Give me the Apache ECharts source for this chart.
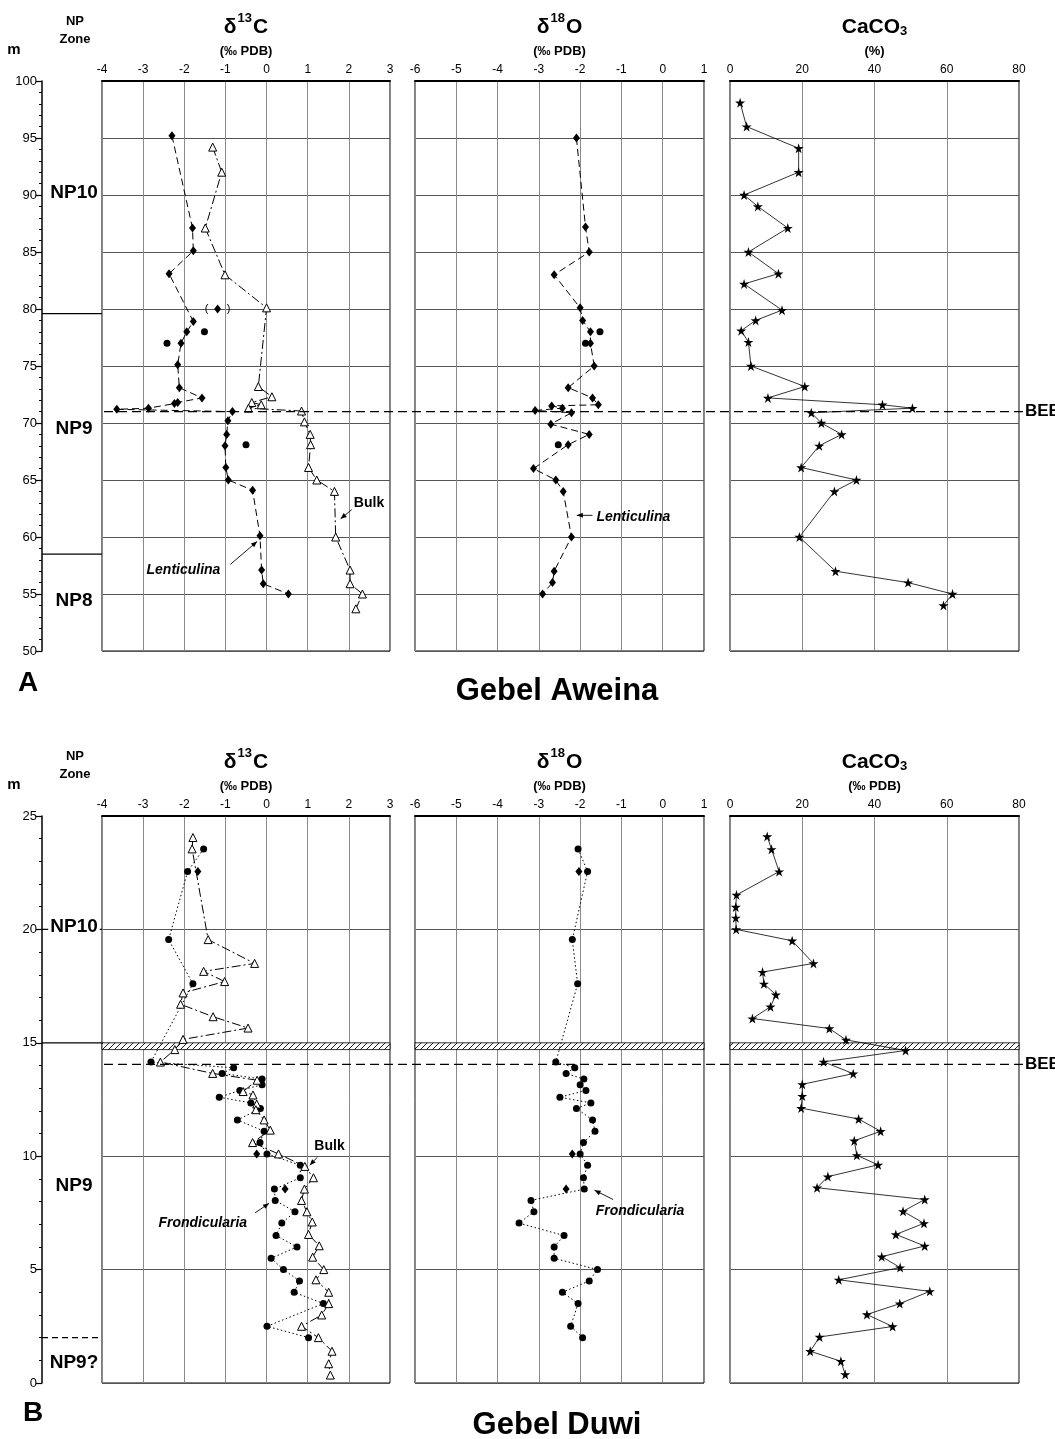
<!DOCTYPE html>
<html><head><meta charset="utf-8">
<script src="https://cdn.jsdelivr.net/npm/echarts@6.0.0/dist/echarts.min.js"></script>
<style>html,body{margin:0;padding:0;background:#fff}#c{width:1055px;height:1439px}</style>
</head><body><div id="c"></div>
<script>
// ---------------- DATA ----------------
const D13C_RANGE = [-4, 3];
const D18O_RANGE = [-6, 1];
const CACO3_RANGE = [0, 80];
const A_DEPTH_RANGE = [50, 100];
const B_DEPTH_RANGE = [0, 25];

// Panel A: Gebel Aweina
const A_LENT13_DEPTH = [95.2, 87.1, 85.1, 83.1, 78.9, 78.0, 77.0, 75.1, 73.1, 72.2, 71.8, 71.7, 71.3, 71.2, 71.0, 70.2, 69.0, 68.0, 66.1, 65.0, 64.1, 60.1, 57.1, 55.9, 55.0];
const A_LENT13 = [-2.30, -1.80, -1.78, -2.37, -1.78, -1.94, -2.08, -2.16, -2.12, -1.57, -2.16, -2.24, -2.87, -3.64, -0.83, -0.94, -0.97, -1.01, -0.99, -0.93, -0.34, -0.16, -0.12, -0.08, 0.53];
const A_BULK13_DEPTH = [94.2, 92.0, 87.1, 83.0, 80.1, 73.2, 72.3, 71.8, 71.6, 71.3, 71.05, 70.1, 69.0, 68.1, 66.1, 65.0, 64.0, 60.0, 57.1, 55.9, 55.0, 53.7];
const A_BULK13 = [-1.31, -1.09, -1.49, -1.01, 0.0, -0.20, 0.13, -0.36, -0.13, -0.44, 0.85, 0.92, 1.06, 1.07, 1.02, 1.22, 1.65, 1.68, 2.03, 2.03, 2.33, 2.17];
const A_OTHER_DEPTH = [78.0, 77.0, 68.1];
const A_OTHER13 = [-1.51, -2.42, -0.50];
const A_OTHER18 = [-1.52, -1.87, -2.53];
const A_PAREN_DEPTH = [80.0];
const A_PAREN13 = [-1.19];
const A_LENT18_DEPTH = [95.0, 87.2, 85.0, 83.0, 80.1, 79.0, 78.0, 77.0, 75.0, 73.1, 72.2, 71.6, 71.5, 71.3, 71.1, 70.9, 69.9, 69.0, 68.1, 66.0, 65.0, 64.0, 60.0, 57.0, 56.0, 55.0];
const A_LENT18 = [-2.09, -1.87, -1.78, -2.63, -2.0, -1.94, -1.75, -1.75, -1.66, -2.29, -1.70, -1.56, -2.69, -2.43, -3.09, -2.21, -2.71, -1.78, -2.29, -3.13, -2.59, -2.41, -2.21, -2.63, -2.67, -2.91];
const A_CACO3_DEPTH = [98.1, 96.0, 94.1, 92.0, 90.0, 89.0, 87.1, 85.0, 83.1, 82.2, 79.9, 79.0, 78.1, 77.1, 75.0, 73.2, 72.2, 71.6, 71.3, 70.9, 70.0, 69.0, 68.0, 66.1, 65.0, 64.0, 60.0, 57.0, 56.0, 55.0, 54.0];
const A_CACO3 = [2.8, 4.6, 19.0, 19.0, 3.9, 7.7, 16.0, 5.1, 13.4, 3.9, 14.4, 7.1, 3.1, 5.1, 5.8, 20.7, 10.5, 42.2, 50.5, 22.5, 25.3, 30.9, 24.7, 19.7, 35.0, 28.9, 19.2, 29.2, 49.3, 61.6, 59.1];
const A_BEE_DEPTH = 71.0;
const A_ZONE_BOUNDS = [79.6, 58.5];
const A_ZONE_LABELS = ['NP10', 'NP9', 'NP8'];
const A_ZONE_LABEL_DEPTH = [90.2, 69.5, 54.4];

// Panel B: Gebel Duwi
const B_FROND_DEPTH = [23.55, 22.55, 19.55, 17.6, 14.15, 13.9, 13.65, 13.4, 13.15, 12.9, 12.6, 12.35, 12.1, 11.6, 11.1, 10.6, 10.1, 9.6, 9.05, 8.55, 8.05, 7.55, 7.05, 6.5, 6.0, 5.5, 5.0, 4.5, 4.0, 3.5, 2.5, 2.0];
const B_FROND13 = [-1.53, -1.92, -2.38, -1.79, -2.81, -0.80, -1.08, -0.11, -0.11, -0.65, -1.15, -0.38, -0.15, -0.71, -0.06, -0.16, 0.01, 0.82, 0.82, 0.19, 0.21, 0.69, 0.37, 0.23, 0.74, 0.11, 0.41, 0.80, 0.67, 1.38, 0.01, 1.02];
const B_FROND18 = [-2.05, -1.82, -2.19, -2.06, -2.59, -2.13, -2.34, -1.91, -2.0, -1.86, -2.49, -1.74, -2.09, -1.70, -1.64, -1.92, -2.0, -1.82, -1.92, -1.90, -3.19, -3.12, -3.48, -2.39, -2.63, -2.63, -1.58, -1.78, -2.43, -2.05, -2.23, -1.94];
const B_BULK13_DEPTH = [24.05, 23.55, 19.55, 18.5, 18.15, 17.7, 17.2, 16.7, 16.15, 15.65, 15.15, 14.7, 14.15, 13.65, 13.35, 12.85, 12.7, 12.3, 12.05, 11.6, 11.15, 10.6, 10.1, 9.55, 9.05, 8.55, 8.05, 7.55, 7.1, 6.55, 6.05, 5.55, 5.0, 4.55, 4.0, 3.5, 3.0, 2.5, 2.0, 1.4, 0.85, 0.35];
const B_BULK13 = [-1.79, -1.81, -1.42, -0.29, -1.53, -1.02, -2.03, -2.09, -1.30, -0.45, -2.03, -2.23, -2.58, -1.31, -0.23, -0.57, -0.33, -0.24, -0.26, -0.06, 0.09, -0.34, 0.29, 0.93, 1.14, 0.92, 0.85, 0.98, 1.11, 1.02, 1.28, 1.12, 1.39, 1.20, 1.51, 1.51, 1.34, 0.85, 1.26, 1.59, 1.51, 1.55];
const B_OTHER_DEPTH = [22.55, 10.1, 8.55];
const B_OTHER13 = [-1.67, -0.24, 0.45];
const B_OTHER18 = [-2.03, -2.19, -2.34];
const B_CACO3_DEPTH = [24.1, 23.53, 22.55, 21.52, 20.99, 20.51, 20.0, 19.5, 18.5, 18.12, 17.6, 17.12, 16.59, 16.07, 15.63, 15.13, 14.66, 14.16, 13.64, 13.17, 12.65, 12.12, 11.64, 11.10, 10.68, 10.04, 9.62, 9.10, 8.61, 8.09, 7.57, 7.04, 6.55, 6.04, 5.57, 5.09, 4.55, 4.04, 3.50, 3.02, 2.49, 2.03, 1.40, 0.96, 0.38];
const B_CACO3 = [10.3, 11.5, 13.6, 1.8, 1.6, 1.6, 1.7, 17.2, 23.1, 9.0, 9.4, 12.7, 11.2, 6.2, 27.5, 32.1, 48.6, 25.9, 34.1, 20.0, 20.0, 19.7, 35.6, 41.7, 34.4, 35.1, 41.0, 27.1, 24.1, 53.9, 47.9, 53.7, 45.9, 53.9, 42.0, 47.1, 30.1, 55.3, 47.0, 37.9, 45.0, 24.8, 22.2, 30.7, 31.9];
const B_BEE_DEPTH = 14.05;
const B_HATCH = [14.7, 15.0];
const B_ZONE_BOUNDS = [20.0, 15.0, 2.0];
const B_ZONE_LABELS = ['NP10', 'NP9', 'NP9?'];
const B_ZONE_LABEL_DEPTH = [20.1, 8.7, 0.9];

// ---------------- CHART ----------------
const FONT = '"Liberation Sans", Arial, Helvetica, sans-serif';
const chart = echarts.init(document.getElementById('c'), null, {renderer: 'canvas'});
const pairs = (xs, ys) => xs.map((x, i) => [x, ys[i]]);
const STAR = 'path://M50,0 L61,35 L98,35 L68,57 L79,91 L50,70 L21,91 L32,57 L2,35 L39,35 Z';

const grids = [
  {left: 102, top: 81, width: 288, height: 570},
  {left: 415, top: 81, width: 289, height: 570},
  {left: 730, top: 81, width: 289, height: 570},
  {left: 102, top: 816, width: 288, height: 567},
  {left: 415, top: 816, width: 289, height: 567},
  {left: 730, top: 816, width: 289, height: 567}
].map(g => Object.assign({show: true, borderColor: '#000', borderWidth: 1, backgroundColor: 'transparent'}, g));

const xr = [D13C_RANGE, D18O_RANGE, CACO3_RANGE, D13C_RANGE, D18O_RANGE, CACO3_RANGE];
const xi = [1, 1, 20, 1, 1, 20];
const xAxis = xr.map((r, i) => ({
  gridIndex: i, type: 'value', position: 'top', min: r[0], max: r[1], interval: xi[i],
  axisLine: {show: true, onZero: false, lineStyle: {color: '#000', width: 2}},
  axisTick: {show: false},
  axisLabel: {margin: 5, fontSize: 12, color: '#000', fontFamily: FONT},
  splitLine: {show: true, lineStyle: {color: '#8a8a8a', width: 1}}
}));
const yAxis = [0, 1, 2, 3, 4, 5].map(i => {
  const r = i < 3 ? A_DEPTH_RANGE : B_DEPTH_RANGE;
  const first = (i % 3 === 0);
  return {
    gridIndex: i, type: 'value', min: r[0], max: r[1], interval: 5, position: 'left',
    offset: first ? 60 : 0,
    axisLine: {show: first, onZero: false, lineStyle: {color: '#000', width: 1.5}},
    axisTick: {show: first, length: 6, lineStyle: {color: '#000', width: 1.2}},
    minorTick: {show: first, splitNumber: 5, length: 3, lineStyle: {color: '#000', width: 1}},
    axisLabel: {show: first, margin: 5, fontSize: 13, color: '#000', fontFamily: FONT},
    splitLine: {show: true, lineStyle: {color: '#555', width: 1}}
  };
});

// hatch pattern
const pc = document.createElement('canvas');
pc.width = 6; pc.height = 6;
const pctx = pc.getContext('2d');
pctx.fillStyle = '#fff'; pctx.fillRect(0, 0, 6, 6);
pctx.strokeStyle = '#000'; pctx.lineWidth = 0.9;
pctx.beginPath();
pctx.moveTo(0, 6); pctx.lineTo(6, 0);
pctx.moveTo(-1, 1); pctx.lineTo(1, -1);
pctx.moveTo(5, 7); pctx.lineTo(7, 5);
pctx.stroke();
const hatchArea = {
  silent: true,
  itemStyle: {color: {image: pc, repeat: 'repeat'}, borderColor: '#000', borderWidth: 0.8, opacity: 1},
  data: [[{yAxis: B_HATCH[0]}, {yAxis: B_HATCH[1]}]]
};

function ser(gi, data, o) {
  const s = {
    type: o.line === false ? 'scatter' : 'line', xAxisIndex: gi, yAxisIndex: gi, data: data,
    symbol: o.symbol, symbolSize: o.size, showSymbol: true, showAllSymbol: true,
    itemStyle: {color: o.fill ? '#000' : '#fff', borderColor: '#000', borderWidth: o.fill ? 0 : 1, opacity: 1},
    animation: false, z: 3
  };
  if (s.type === 'line') s.lineStyle = {color: '#000', width: o.w || 1, type: o.dash};
  if (o.extra) Object.assign(s, o.extra);
  return s;
}
const DASH = [7, 4];
const DASHDOT = [9, 3, 2, 3];
const DOT = [1.5, 2.5];

const series = [
  ser(0, pairs(A_LENT13, A_LENT13_DEPTH), {symbol: 'diamond', size: [7, 9], fill: true, dash: DASH}),
  ser(0, pairs(A_BULK13, A_BULK13_DEPTH), {symbol: 'triangle', size: 8, fill: false, dash: DASHDOT}),
  ser(0, pairs(A_OTHER13, A_OTHER_DEPTH), {symbol: 'circle', size: 7, fill: true, line: false}),
  ser(0, pairs(A_PAREN13, A_PAREN_DEPTH), {symbol: 'diamond', size: [7, 9], fill: true, line: false,
    extra: {label: {show: true, position: 'inside', formatter: '(      )', color: '#000', fontSize: 11, fontFamily: FONT}}}),
  ser(1, pairs(A_LENT18, A_LENT18_DEPTH), {symbol: 'diamond', size: [7, 9], fill: true, dash: DASH}),
  ser(1, pairs(A_OTHER18, A_OTHER_DEPTH), {symbol: 'circle', size: 7, fill: true, line: false}),
  ser(2, pairs(A_CACO3, A_CACO3_DEPTH), {symbol: STAR, size: 10, fill: true, dash: 'solid', w: 0.8}),
  ser(3, pairs(B_FROND13, B_FROND_DEPTH), {symbol: 'circle', size: 7, fill: true, dash: DOT, extra: {markArea: hatchArea}}),
  ser(3, pairs(B_BULK13, B_BULK13_DEPTH), {symbol: 'triangle', size: 8, fill: false, dash: DASHDOT}),
  ser(3, pairs(B_OTHER13, B_OTHER_DEPTH), {symbol: 'diamond', size: [7, 9], fill: true, line: false}),
  ser(4, pairs(B_FROND18, B_FROND_DEPTH), {symbol: 'circle', size: 7, fill: true, dash: DOT, extra: {markArea: hatchArea}}),
  ser(4, pairs(B_OTHER18, B_OTHER_DEPTH), {symbol: 'diamond', size: [7, 9], fill: true, line: false}),
  ser(5, pairs(B_CACO3, B_CACO3_DEPTH), {symbol: STAR, size: 10, fill: true, dash: 'solid', w: 0.8, extra: {markArea: hatchArea}})
];

chart.setOption({
  backgroundColor: '#fff', animation: false,
  grid: grids, xAxis: xAxis, yAxis: yAxis, series: series
});

// ---------------- ANNOTATIONS ----------------
const G = [];
const P = (gi, x, y) => chart.convertToPixel({gridIndex: gi}, [x, y]);
function T(x, y, text, font, align, extra) {
  const st = Object.assign({text: text, x: x, y: y, fill: '#000', font: font,
    align: align || 'center', verticalAlign: 'middle', textAlign: align || 'center', textVerticalAlign: 'middle'}, extra || {});
  G.push({type: 'text', z: 50, style: st});
}
function L(x1, y1, x2, y2, w, dash) {
  G.push({type: 'line', z: 40, shape: {x1: x1, y1: y1, x2: x2, y2: y2},
    style: {stroke: '#000', lineWidth: w || 1, lineDash: dash || null}});
}
function arrow(gi, from, to) {
  const a = P(gi, from[0], from[1]), b = P(gi, to[0], to[1]);
  L(a[0], a[1], b[0], b[1], 0.9);
  const ang = Math.atan2(b[1] - a[1], b[0] - a[0]);
  const hl = 6, hw = 2.5;
  const bx = b[0] - hl * Math.cos(ang), by = b[1] - hl * Math.sin(ang);
  G.push({type: 'polygon', z: 40, shape: {points: [
    [b[0], b[1]],
    [bx + hw * Math.sin(ang), by - hw * Math.cos(ang)],
    [bx - hw * Math.sin(ang), by + hw * Math.cos(ang)]]}, style: {fill: '#000'}});
}
const BOLD = s => 'bold ' + s + 'px ' + FONT;
const BI = s => 'italic bold ' + s + 'px ' + FONT;

function header(p) {
  const g0 = grids[p * 3], top = g0.top;
  T(14, top - 31, 'm', BOLD(15));
  T(75, top - 60, 'NP', BOLD(13));
  T(75, top - 42, 'Zone', BOLD(13));
  const cx = [0, 1, 2].map(k => grids[p * 3 + k].left + grids[p * 3 + k].width / 2);
  const richT = {a: {font: BOLD(21), verticalAlign: 'bottom', lineHeight: 26},
                 s: {font: BOLD(13), verticalAlign: 'top', lineHeight: 26, padding: [0, 1, 0, 1]},
                 u: {font: BOLD(13), verticalAlign: 'bottom', lineHeight: 22}};
  T(cx[0], top - 56, '{a|δ}{s|13}{a|C}', BOLD(21), 'center', {rich: richT});
  T(cx[1], top - 56, '{a|δ}{s|18}{a|O}', BOLD(21), 'center', {rich: richT});
  T(cx[2], top - 56, '{a|CaCO}{u|3}', BOLD(21), 'center', {rich: richT});
  T(cx[0], top - 30, '(‰ PDB)', BOLD(13));
  T(cx[1], top - 30, '(‰ PDB)', BOLD(13));
  T(cx[2], top - 30, p === 0 ? '(%)' : '(‰ PDB)', BOLD(13));
}
header(0); header(1);

// zone boundaries and labels
const axisX = grids[0].left - 60;
A_ZONE_BOUNDS.forEach(d => { const y = P(0, D13C_RANGE[0], d)[1]; L(axisX, y, grids[0].left, y, 1.2); });
B_ZONE_BOUNDS.forEach((d, i) => { const y = P(3, D13C_RANGE[0], d)[1]; L(axisX, y, grids[3].left, y, 1.2, i === 2 ? [6, 4] : null); });
A_ZONE_LABELS.forEach((t, i) => T(74, P(0, 0, A_ZONE_LABEL_DEPTH[i])[1], t, BOLD(19)));
B_ZONE_LABELS.forEach((t, i) => T(74, P(3, 0, B_ZONE_LABEL_DEPTH[i])[1], t, BOLD(19), 'center',
  {backgroundColor: '#fff', padding: [0, 2]}));

// BEE lines
[[0, A_BEE_DEPTH], [3, B_BEE_DEPTH]].forEach(([gi, d]) => {
  const y = P(gi, 0, d)[1];
  L(grids[gi].left + 2, y, grids[gi + 2].left + grids[gi + 2].width + 4, y, 1.3, [9, 5]);
  T(1025, y, 'BEE', BOLD(17), 'left');
});

// in-plot annotations (data coordinates)
function note(gi, pos, txt, font) { const p = P(gi, pos[0], pos[1]); T(p[0], p[1], txt, font); }
note(0, [-2.02, 57.1], 'Lenticulina', BI(14));
arrow(0, [-0.88, 57.6], [-0.23, 59.6]);
note(0, [2.49, 63.0], 'Bulk', BOLD(14));
arrow(0, [2.07, 62.4], [1.80, 61.6]);
note(1, [-0.71, 61.75], 'Lenticulina', BI(14));
arrow(1, [-1.70, 61.9], [-2.08, 61.9]);
note(3, [1.53, 10.45], 'Bulk', BOLD(14));
arrow(3, [1.23, 9.95], [1.05, 9.6]);
note(3, [-1.55, 7.06], 'Frondicularia', BI(14));
arrow(3, [-0.28, 7.5], [0.06, 7.92]);
note(4, [-0.55, 7.57], 'Frondicularia', BI(14));
arrow(4, [-1.2, 8.09], [-1.65, 8.5]);

// panel letters and titles
T(28, grids[2].top + grids[2].height + 32, 'A', BOLD(28));
T(33, grids[5].top + grids[5].height + 30, 'B', BOLD(28));
T(557, grids[1].top + grids[1].height + 40, 'Gebel Aweina', BOLD(31));
T(557, grids[4].top + grids[4].height + 42, 'Gebel Duwi', BOLD(31));

chart.setOption({graphic: G});
</script></body></html>
